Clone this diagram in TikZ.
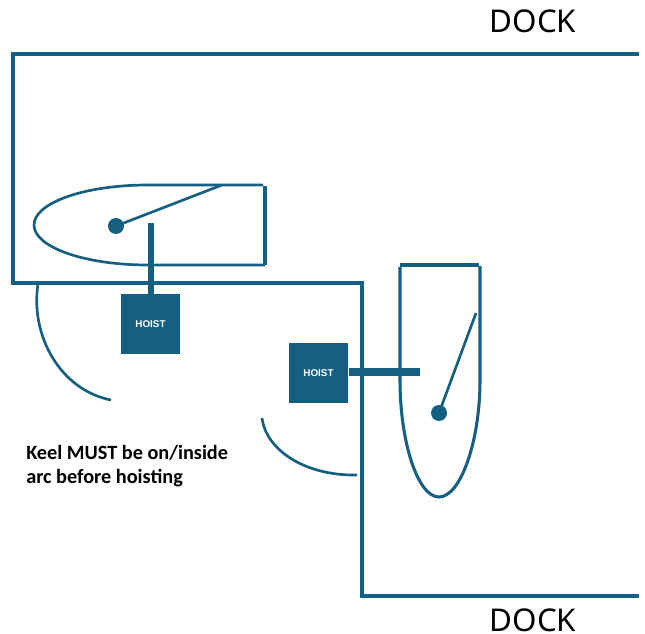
\documentclass[tikz,border=0pt]{standalone}
\usepackage{fontspec}
\setmainfont{Noto Sans}
\newfontfamily\notefont{Carlito}
\newfontfamily\hoistfont{Liberation Sans}
\definecolor{teal1}{HTML}{156082}
\tikzset{
  wall/.style={draw=teal1,line width=2.3pt},
  thin/.style={draw=teal1,line width=2pt},
  straight/.style={draw=teal1,line width=2.3pt},
  armv/.style={draw=teal1,line width=4.5pt},
  armh/.style={draw=teal1,line width=5.6pt},
  hoistbox/.style={fill=teal1,draw=none,minimum size=44.5pt,inner sep=0pt,text=white,font=\hoistfont\bfseries\fontsize{7.4}{8}\selectfont},
  pivot/.style={circle,fill=teal1,draw=none,minimum size=12pt,inner sep=0pt},
  lab/.style={font=\fontsize{23.5}{28}\selectfont,text=black,inner sep=0pt},
}
\begin{document}
\begin{tikzpicture}[x=0.75pt,y=-0.75pt]
\useasboundingbox (0,0) rectangle (645,634);
\node[lab] (dock1) at (533,21) {DOCK};
\node[lab] (dock2) at (533,620.5) {DOCK};
\draw[wall,line join=miter] (639,54) -- (13,54) -- (13,283) -- (362,283) -- (362,596) -- (639,596);
% left boat
\draw[straight] (265,186) -- (265,265);
\draw[thin] (263,185) -- (148,185) .. controls (84,185) and (34,203) .. (34,225) .. controls (34,247) and (84,265) .. (148,265) -- (265,265);
\node[pivot] (p1) at (116,226) {};
\draw[thin] (p1.center) -- (222,185);
\node[hoistbox] (h1) at (150.5,324) {HOIST};
\draw[armv] (151,223) -- (151,296);
% right boat
\draw[straight] (400,265) -- (479,265);
\draw[straight] (400,267) -- (400,380) .. controls (400,443) and (418,497) .. (439,497) .. controls (460,497) and (480,443) .. (480,380) -- (480,266);
\node[pivot] (p2) at (439,413) {};
\draw[thin] (p2.center) -- (476,313);
\node[hoistbox] (h2) at (318.5,373) {HOIST};
\draw[armh] (349,372) -- (420,372);
% arcs
\draw[thin] (38,284) .. controls (30,335) and (60,390) .. (111,400);
\draw[thin] (262,418) .. controls (266,450) and (305,476) .. (357,475);
\node[align=left,anchor=north west,inner sep=0pt,font=\notefont\bfseries\fontsize{15.2}{18}\selectfont] (note) at (26,445) {Keel MUST be on/inside\\arc before hoisting};
\end{tikzpicture}
\end{document}
